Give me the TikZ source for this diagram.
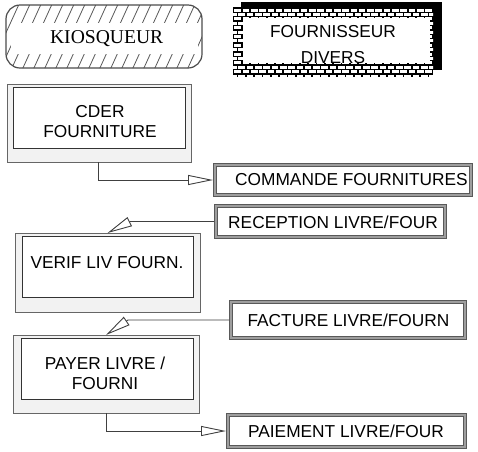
\documentclass[tikz,border=0pt]{standalone}
\usepackage{fontspec}
\setmainfont{Liberation Sans}
\newfontfamily\kserif{Liberation Serif}
\usetikzlibrary{arrows.meta}
\tikzset{
  procout/.style={draw=black!60, fill=black!5, line width=1pt, inner sep=0pt, outer sep=0pt},
  procin/.style={draw=black!80, fill=white, line width=0.8pt, inner sep=0pt},
  store/.style={draw=black!65, line width=0.7pt, double=black!38, double distance=2.6pt, fill=white, inner sep=0pt, outer sep=2pt},
  conn/.style={draw=black!75, line width=0.9pt, -{Triangle[open, length=25pt, width=10pt]}},
  lbl/.style={font=\fontsize{17.3}{19.5}\selectfont, inner sep=0pt, anchor=base},
  mlbl/.style={font=\fontsize{17.3}{19.5}\selectfont, inner sep=0pt, align=center, anchor=center},
  hatchline/.style={draw=black!65, line width=0.8pt},
  kiosk/.style={draw=black!70, line width=1.2pt, rounded corners=14pt, inner sep=0pt}
}
\begin{document}
\begin{tikzpicture}[x=1pt,y=-1pt]
\useasboundingbox (0,0) rectangle (478,451);
\fill[white] (0,0) rectangle (478,451);

% ---- KIOSQUEUR (hatched rounded box)
\begin{scope}
  \clip[rounded corners=14pt] (6,5) rectangle (202,68);
  \foreach \i in {-4,...,19} \draw[hatchline] ({\i*11},70) -- ++(31,-68);
  \fill[white] (11,23) rectangle (198,54);
\end{scope}
\node[kiosk, minimum width=196pt, minimum height=63pt] (kiosk) at (104,36.5) {};
\node[inner sep=0pt, anchor=base, font=\kserif\fontsize{19.6}{22}\selectfont] (tkiosk) at (106.7,43.3) {KIOSQUEUR};

% ---- FOURNISSEUR DIVERS (brick frame with black shadow)
\fill[black] (241,2) rectangle (442,70);
\begin{scope}
  \clip (233,7) rectangle (433,77);
  \fill[black] (233,7) rectangle (433,77);
  \foreach \r in {0,...,15} {
    \pgfmathsetmacro\yy{8.5+\r*4.4}
    \pgfmathsetmacro\off{mod(\r,2)*4.15}
    \foreach \c in {0,...,25} {
      \fill[white] ({226+\off+\c*8.3},\yy) rectangle ++(6.6,3);
    }
  }
\end{scope}
\node[fill=white, inner sep=0pt, minimum width=187pt, minimum height=45pt] (fourn) at (336.5,40.5) {};
\begin{scope}
  \clip (243,18) rectangle (430,63);
  \node[mlbl, font=\fontsize{17.3}{26}\selectfont] (tfourn) at (333,45) {FOURNISSEUR\\DIVERS};
\end{scope}

% ---- process boxes
\node[procout, minimum width=184pt, minimum height=78pt] (cder) at (99,123) {};
\node[procin, minimum width=172pt, minimum height=61pt] (cderin) at (99,117.5) {};
\node[mlbl] (tcder) at (100,121.5) {CDER\\FOURNITURE};

\node[procout, minimum width=185pt, minimum height=79pt] (verif) at (107.5,272.5) {};
\node[procin, minimum width=171pt, minimum height=61pt] (verifin) at (107.5,266.5) {};
\node[lbl] (tverif) at (107,268) {VERIF LIV FOURN.};

\node[procout, minimum width=186pt, minimum height=78pt] (payer) at (106,374) {};
\node[procin, minimum width=172pt, minimum height=61pt] (payerin) at (107,368.5) {};
\node[mlbl] (tpayer) at (105,373.3) {PAYER LIVRE /\\FOURNI};

% ---- data stores
\node[store, minimum width=256pt, minimum height=30pt] (cmd) at (343,180) {};
\node[lbl] (tcmd) at (351.5,185) {COMMANDE FOURNITURES};

\node[store, minimum width=229pt, minimum height=31pt] (rec) at (330.5,221.5) {};
\node[lbl] (trec) at (333,228) {RECEPTION LIVRE/FOUR};

\node[store, minimum width=234pt, minimum height=36pt] (fac) at (348,320) {};
\node[lbl] (tfac) at (348.5,326) {FACTURE LIVRE/FOURN};

\node[store, minimum width=237pt, minimum height=32pt] (pai) at (346.5,431) {};
\node[lbl] (tpai) at (346,437) {PAIEMENT LIVRE/FOUR};

% ---- connectors
\coordinate (k1) at (130,221.5);
\coordinate (k2) at (128,320);
\draw[conn] ([xshift=-1pt]cder.south) |- (cmd.west);
\draw[conn] (rec.west) -- (k1) -- (verif.north);
\draw[conn] (fac.west) -- (k2) -- (payer.north);
\draw[conn] (payer.south) |- (pai.west);
\end{tikzpicture}
\end{document}
